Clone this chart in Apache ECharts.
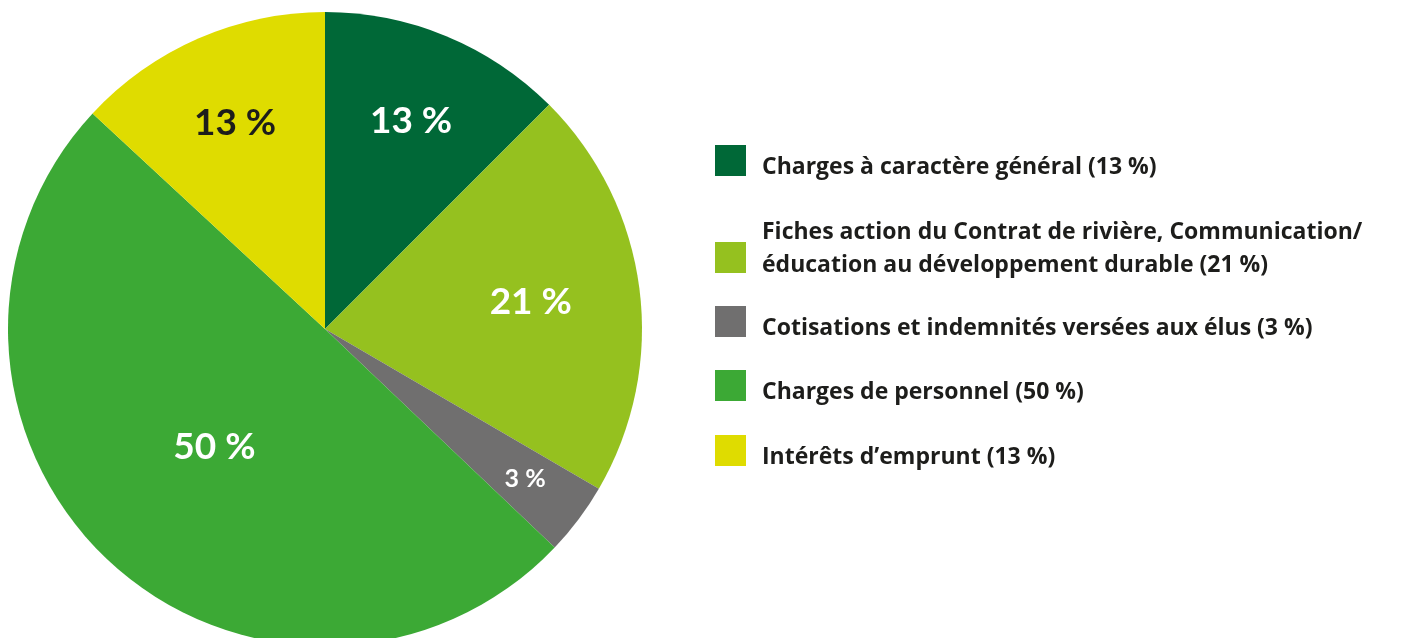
<!DOCTYPE html>
<html lang="fr">
<head>
<meta charset="utf-8">
<title>Répartition des dépenses</title>
<script src="https://cdn.jsdelivr.net/npm/echarts/dist/echarts.min.js"></script>
<style>
  html, body { margin: 0; padding: 0; background: #fff; }
  #chart { width: 1402px; height: 638px; }
</style>
</head>
<body>
<div id="chart"></div>
<script>
// postes de dépenses, dans l'ordre horaire depuis midi
const categories = [
  'Charges à caractère général (13 %)',
  'Fiches action du Contrat de rivière, Communication/\néducation au développement durable (21 %)',
  'Cotisations et indemnités versées aux élus (3 %)',
  'Charges de personnel (50 %)',
  'Intérêts d’emprunt (13 %)'
]
const values = [12.5, 20.9, 3.7, 49.8, 13.1]
const sliceLabels = ['13 %', '21 %', '3 %', '50 %', '13 %']

const colors = ['#006837', '#95c11f', '#706f6f', '#3ca935', '#dfdc00']
const labelColors = ['#ffffff', '#ffffff', '#ffffff', '#ffffff', '#1d1d1b']
const labelSizes = [37, 37, 25, 37, 37]
// distance du label au centre, en fraction du rayon
const labelRadius = [0.70, 0.645, 0.78, 0.5, 0.70]

const FONT = 'Lato, "Open Sans", sans-serif'
const LEGEND_FONT = '"Open Sans", Lato, sans-serif'
const CENTER = [325, 329]
const R = 317

// haut de chaque boîte de légende
const legendTops = [143, 220.5, 304, 368, 433]

const chart = echarts.init(document.getElementById('chart'))

const mainSeries = {
  type: 'pie',
  center: CENTER,
  radius: [0, R],
  startAngle: 90,
  clockwise: true,
  avoidLabelOverlap: false,
  label: { show: false },
  labelLine: { show: false },
  emphasis: { disabled: true },
  itemStyle: { borderWidth: 0 },
  data: categories.map((name, i) => ({
    name,
    value: values[i],
    itemStyle: { color: colors[i] }
  }))
}

// une série transparente par part, juste pour placer son label
const labelSeries = values.map((_, i) => ({
  type: 'pie',
  center: CENTER,
  radius: [Math.max(0, 2 * labelRadius[i] - 1) * R, R],
  startAngle: 90,
  clockwise: true,
  silent: true,
  avoidLabelOverlap: false,
  emphasis: { disabled: true },
  itemStyle: { color: 'transparent', borderWidth: 0 },
  labelLine: { show: false },
  data: values.map((v, j) => ({
    value: v,
    label: {
      show: j === i,
      position: 'inside',
      formatter: () => sliceLabels[j],
      color: labelColors[j],
      fontFamily: FONT,
      fontWeight: 'bold',
      fontSize: labelSizes[j]
    }
  }))
}))

// le texte est un peu décalé par rapport au carré : ligne vide en haut ou en bas
function legendText(name) {
  const lines = name.split('\n').map(l => '{t|' + l + '}')
  if (lines.length > 1) return lines.join('\n') + '\n{s| }'
  return '{p| }\n' + lines[0]
}

const legends = categories.map((name, i) => ({
  left: 715,
  top: legendTops[i],
  orient: 'vertical',
  padding: 0,
  icon: 'rect',
  itemWidth: 31,
  itemHeight: 31,
  selectedMode: false,
  data: [name],
  formatter: legendText,
  textStyle: {
    rich: {
      t: {
        fontFamily: LEGEND_FONT,
        fontWeight: 'bold',
        fontSize: 23,
        lineHeight: 33,
        color: '#1d1d1b',
        padding: [0, 0, 0, 11]
      },
      s: { fontSize: 2, lineHeight: 18 },
      p: { fontSize: 2, lineHeight: 14 }
    }
  }
}))

chart.setOption({
  animation: false,
  backgroundColor: '#ffffff',
  legend: legends,
  series: [mainSeries, ...labelSeries]
})
</script>
</body>
</html>
